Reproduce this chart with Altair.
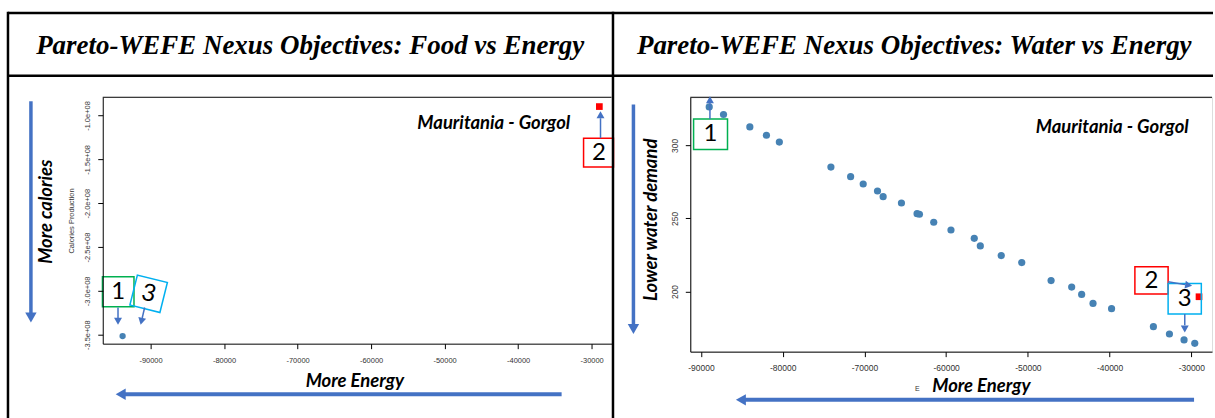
import altair as alt
import pandas as pd

# ---------------- data ----------------
# Food vs Energy Pareto front (energy objective, calories objective)
food_energy = [-93800]
food_calories = [-3.515e8]
# highlighted compromise solution
food_best_energy = [-28950]
food_best_calories = [-0.898e8]

# Water vs Energy Pareto front
water_energy = [-88990, -87240, -84020, -81990, -80410, -74100, -71690, -70150,
                -68400, -67710, -65470, -63560, -63270, -61520, -59410, -56560,
                -55820, -53260, -50750, -47160, -44640, -43420, -42030, -39760,
                -34640, -32680, -30890, -29580]
water_demand = [326.4, 321.2, 312.7, 307.0, 302.3, 285.2, 278.6, 273.6,
                268.8, 264.9, 260.6, 253.3, 252.9, 247.4, 242.1, 236.4,
                231.2, 224.6, 219.8, 207.5, 203.0, 198.0, 191.8, 188.2,
                175.9, 170.9, 166.8, 164.5]
water_best_energy = [-29060]
water_best_demand = [196.4]

energy_ticks = [-90000, -80000, -70000, -60000, -50000, -40000, -30000]
calorie_ticks = [-1.0e8, -1.5e8, -2.0e8, -2.5e8, -3.0e8, -3.5e8]
water_ticks = [200, 250, 300]

# ---------------- layout & style ----------------
LW, LH = 510, 247          # food panel plot area
RW, RH = 523, 255          # water panel plot area
GAP = 79
PAD_L, PAD_T = 102, 96     # offset of the first plot area inside the page
PAGE_W, PAGE_H = 1215, 418

BLUE = "#4472C4"
DOT = "#4682B4"
GREEN = "#00B050"
RED = "#FF0000"
CYAN = "#00B0F0"
SANS = "Lato"
HEAD = "M0,0L-0.57,-1L0.57,-1Z"   # arrow head, tip at the anchor point
ONE = alt.Data(values=[{"n": 0}])

LX = alt.Scale(domain=[-96500, -27300], nice=False, zero=False)
LY = alt.Scale(domain=[-3.602e8, -0.792e8], nice=False, zero=False)
RX = alt.Scale(domain=[-91306, -27470], nice=False, zero=False)
RY = alt.Scale(domain=[158.8, 333.0], nice=False, zero=False)

AX_COMMON = dict(grid=False, domain=True, domainColor="black", domainWidth=1,
                 ticks=True, tickColor="black", tickSize=5, tickWidth=1,
                 labelFont="Liberation Sans", labelColor="#333", zindex=1)


def px_rule(x, y, x2, y2, color="black", width=1.0):
    return alt.Chart(ONE).mark_rule(color=color, strokeWidth=width).encode(
        x=alt.value(x), y=alt.value(y), x2=alt.value(x2), y2=alt.value(y2))


def px_head(x, y, angle, size, color=BLUE):
    return alt.Chart(ONE).mark_point(
        shape=HEAD, filled=True, opacity=1, size=size, angle=angle,
        color=color, strokeWidth=0).encode(x=alt.value(x), y=alt.value(y))


def px_text(txt, x, y, **kw):
    return alt.Chart(ONE).mark_text(text=txt, **kw).encode(
        x=alt.value(x), y=alt.value(y))


def d_rule(x, y, x2, y2, sx, sy, color=BLUE, width=1.5):
    return alt.Chart(ONE).mark_rule(color=color, strokeWidth=width).encode(
        x=alt.XDatum(x, scale=sx), y=alt.YDatum(y, scale=sy),
        x2=alt.X2Datum(x2), y2=alt.Y2Datum(y2))


def d_head(x, y, angle, sx, sy, size=196, color=BLUE):
    return alt.Chart(ONE).mark_point(
        shape=HEAD, filled=True, opacity=1, size=size, angle=angle,
        color=color, strokeWidth=0).encode(
        x=alt.XDatum(x, scale=sx), y=alt.YDatum(y, scale=sy))


def d_box(x, x2, y, y2, sx, sy, color):
    return alt.Chart(ONE).mark_rect(filled=False, stroke=color, strokeWidth=1.5).encode(
        x=alt.XDatum(x, scale=sx), x2=alt.X2Datum(x2),
        y=alt.YDatum(y, scale=sy), y2=alt.Y2Datum(y2))


def d_text(txt, x, y, sx, sy, angle=0):
    return alt.Chart(ONE).mark_text(
        text=txt, font=SANS, fontSize=24, color="black", angle=angle,
        align="center", baseline="middle").encode(
        x=alt.XDatum(x, scale=sx), y=alt.YDatum(y, scale=sy))


def d_tilted_box(x, y, sx, sy, side, angle, color):
    return alt.Chart(ONE).mark_point(
        shape="square", filled=False, size=side * side, angle=angle,
        color=color, strokeWidth=1.5, opacity=1).encode(
        x=alt.XDatum(x, scale=sx), y=alt.YDatum(y, scale=sy))


TITLE_STYLE = dict(font="Liberation Serif", fontSize=27, fontStyle="italic",
                   fontWeight="bold", color="black", align="center",
                   baseline="alphabetic")
NOTE_STYLE = dict(font=SANS, fontStyle="italic", fontWeight="bold",
                  color="black", align="center")

# ---------------- food vs energy panel ----------------
food_df = pd.DataFrame({"energy": food_energy, "calories": food_calories})
food_best_df = pd.DataFrame({"energy": food_best_energy,
                             "calories": food_best_calories})

food_x_axis = alt.Axis(values=energy_ticks, labelExpr="'' + datum.value",
                       labelFontSize=7.5, labelPadding=8, title=None, **AX_COMMON)
food_y_axis = alt.Axis(
    values=calorie_ticks,
    labelExpr="replace(replace(format(datum.value, '.1e'), '\u2212', '-'), 'e+', 'e+0')",
    labelAngle=270, labelFontSize=7.5, labelPadding=6,
    title="Calories Production", titleFont="Liberation Sans", titleFontSize=7.5,
    titleFontWeight="normal", titleColor="#333", titlePadding=8, **AX_COMMON)

food_layers = [
    # page background, also fixes the page extent
    alt.Chart(ONE).mark_rect(color="white").encode(
        x=alt.value(-PAD_L), x2=alt.value(PAGE_W - PAD_L),
        y=alt.value(-PAD_T), y2=alt.value(PAGE_H - PAD_T)),
    alt.Chart(food_df).mark_circle(size=40, color=DOT, opacity=1).encode(
        x=alt.X("energy:Q", scale=LX, axis=food_x_axis),
        y=alt.Y("calories:Q", scale=LY, axis=food_y_axis)),
    alt.Chart(food_best_df).mark_square(size=45, color=RED, opacity=1).encode(
        x=alt.X("energy:Q", scale=LX), y=alt.Y("calories:Q", scale=LY)),
    px_rule(0, 0, LW, 0),
    # callouts
    d_box(-96540, -92250, -2.840e8, -3.181e8, LX, LY, GREEN),
    d_text("1", -94400, -3.01e8, LX, LY),
    d_tilted_box(-90258, -3.033e8, LX, LY, 31, 14, CYAN),
    d_text("3", -90258, -3.033e8, LX, LY, angle=14),
    d_rule(-94424, -3.189e8, -94424, -3.31e8, LX, LY),
    d_head(-94424, -3.386e8, 0, LX, LY),
    d_rule(-90801, -3.189e8, -91132, -3.309e8, LX, LY),
    d_head(-91344, -3.386e8, 13, LX, LY),
    d_box(-31098, -27028, -1.258e8, -1.588e8, LX, LY, RED),
    d_text("2", -29000, -1.423e8, LX, LY),
    d_rule(-28793, -1.258e8, -28793, -1.031e8, LX, LY),
    d_head(-28793, -0.951e8, 180, LX, LY),
    # notes and direction arrows
    px_text("Mauritania - Gorgol", 392, 32, fontSize=18.5, baseline="alphabetic",
            **NOTE_STYLE),
    px_rule(-72, 4, -72, 217, BLUE, 3.5),
    px_head(-72, 225.7, 0, 400),
    px_text("More calories", -57, 114.7, fontSize=18.5, angle=270,
            baseline="middle", **NOTE_STYLE),
    px_rule(460, 297.7, 22, 297.7, BLUE, 4),
    px_head(13, 297.7, 90, 400),
    px_text("More Energy", 252.7, 290, fontSize=18.5, baseline="alphabetic",
            **NOTE_STYLE),
    # table frame
    px_rule(-95, -84.5, PAGE_W - PAD_L, -84.5, "black", 2.5),
    px_rule(-95, -21.5, PAGE_W - PAD_L, -21.5, "black", 2.5),
    px_rule(-95, -85.7, -95, PAGE_H - PAD_T, "black", 2.5),
    px_rule(511.5, -85.7, 511.5, PAGE_H - PAD_T, "black", 2.5),
    px_text("Pareto-WEFE Nexus Objectives: Food vs Energy", 208, -43,
            **TITLE_STYLE),
]
food_panel = alt.layer(*food_layers).properties(width=LW, height=LH)

# ---------------- water vs energy panel ----------------
water_df = pd.DataFrame({"energy": water_energy, "water": water_demand})
water_best_df = pd.DataFrame({"energy": water_best_energy,
                              "water": water_best_demand})

water_x_axis = alt.Axis(values=energy_ticks, labelExpr="'' + datum.value",
                        labelFontSize=8.5, labelPadding=7, title=None, **AX_COMMON)
water_y_axis = alt.Axis(values=water_ticks, labelAngle=270, labelFontSize=8.5,
                        labelPadding=6, title=None, **AX_COMMON)

water_layers = [
    alt.Chart(water_df).mark_circle(size=52, color=DOT, opacity=1).encode(
        x=alt.X("energy:Q", scale=RX, axis=water_x_axis),
        y=alt.Y("water:Q", scale=RY, axis=water_y_axis)),
    alt.Chart(water_best_df).mark_square(size=45, color=RED, opacity=1).encode(
        x=alt.X("energy:Q", scale=RX), y=alt.Y("water:Q", scale=RY)),
    px_rule(0, 0, RW, 0),
    # callouts
    d_box(-90903, -86753, 318.2, 297.3, RX, RY, GREEN),
    d_text("1", -88828, 307.7, RX, RY),
    d_rule(-88901, 318.2, -88901, 328.9, RX, RY),
    d_head(-88901, 333.7, 180, RX, RY),
    d_box(-36906, -32841, 216.9, 198.2, RX, RY, RED),
    d_text("2", -34880, 207.5, RX, RY),
    d_box(-32841, -28777, 205.5, 184.6, RX, RY, CYAN),
    d_text("3", -30803, 195.0, RX, RY),
    d_rule(-32841, 206.6, -30761, 204.7, RX, RY),
    d_head(-29912, 203.9, 279.5, RX, RY),
    d_rule(-30803, 184.6, -30803, 176.8, RX, RY),
    d_head(-30803, 172.0, 0, RX, RY),
    # notes and direction arrows
    px_text("Mauritania - Gorgol", 423, 35.7, fontSize=18.5, baseline="alphabetic",
            **NOTE_STYLE),
    px_rule(-57, 7.3, -57, 228.5, BLUE, 3.5),
    px_head(-57, 237.3, 0, 400),
    px_text("Lower water demand", -39.3, 122.8, fontSize=18.5, angle=270,
            baseline="middle", **NOTE_STYLE),
    px_rule(505, 303.3, 54.5, 303.3, BLUE, 4),
    px_head(45.7, 303.3, 90, 400),
    px_text("More Energy", 291.8, 295.7, fontSize=18.5, baseline="alphabetic",
            **NOTE_STYLE),
    px_text("E", 227.5, 292.3, font="Liberation Sans", fontSize=7, color="#333",
            align="center", baseline="middle"),
    px_text("Pareto-WEFE Nexus Objectives: Water vs Energy", 224.5, -43,
            **TITLE_STYLE),
]
water_panel = alt.layer(*water_layers).properties(width=RW, height=RH)

chart = alt.hconcat(
    food_panel, water_panel, spacing=GAP, bounds="flush", padding=0,
).configure_view(strokeWidth=0).configure(background="white")

chart.save("out.html", embed_options={"renderer": "svg", "actions": False})
